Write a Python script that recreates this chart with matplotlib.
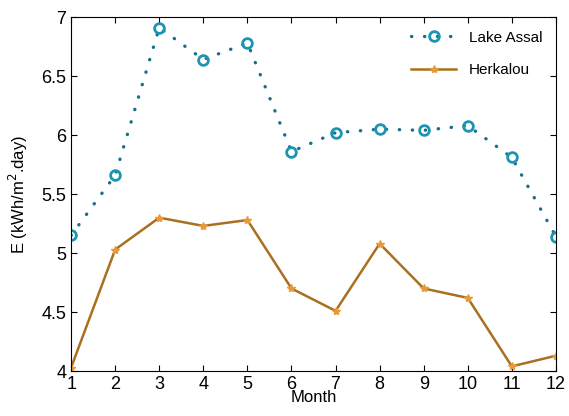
import numpy as np
import matplotlib.pyplot as plt

plt.rcParams['font.family'] = ['Liberation Sans', 'DejaVu Sans']

# monthly energy values
months = np.arange(1, 13)
lake_assal = [5.15, 5.66, 6.91, 6.64, 6.78, 5.86, 6.02, 6.05, 6.04, 6.08, 5.81, 5.14]
herkalou = [4.03, 5.03, 5.30, 5.23, 5.28, 4.70, 4.51, 5.08, 4.70, 4.62, 4.04, 4.13]

fig = plt.figure(figsize=(5.69, 4.16), dpi=100)
ax = fig.add_axes([0.125, 0.108, 0.852, 0.851])

ax.plot(months, lake_assal, linestyle=(0, (0.1, 3.8)), dash_capstyle='round',
        color='#17708a', linewidth=2.4,
        marker='o', markersize=7, markerfacecolor='none',
        markeredgecolor='#1b95b3', markeredgewidth=2, label='Lake Assal')
ax.plot(months, herkalou, '-', color='#a8701f', linewidth=1.8,
        marker='*', markersize=6, markerfacecolor='#e89a3a',
        markeredgecolor='#e89a3a', label='Herkalou')

ax.set_xlim(1, 12)
ax.set_ylim(4, 7)
ax.set_xticks(months)
ax.set_yticks([4, 4.5, 5, 5.5, 6, 6.5, 7])
ax.set_yticklabels(['4', '4.5', '5', '5.5', '6', '6.5', '7'])
ax.tick_params(direction='in', top=True, right=True, labelsize=13, length=4)

ax.set_xlabel('Month', fontsize=12, labelpad=-2)
ax.set_ylabel('E (kWh/m$^2$.day)', fontsize=12, labelpad=8)

ax.legend(loc='upper right', frameon=False, fontsize=11, handlelength=3,
          labelspacing=1.2)

fig.savefig('out.png', dpi=100)
